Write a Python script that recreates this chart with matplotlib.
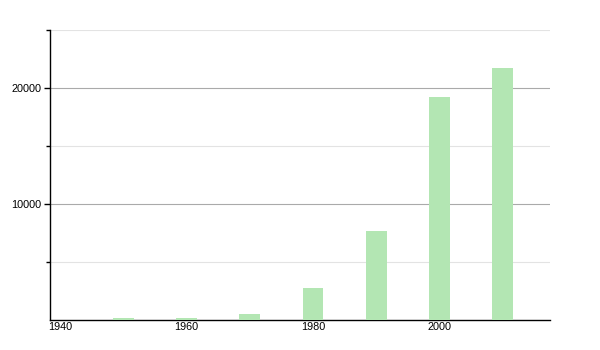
import matplotlib.pyplot as plt
import numpy as np

# values
anni = [1950, 1960, 1970, 1980, 1990, 2000, 2010]
valori = [150, 150, 480, 2720, 7700, 19220, 21750]
xticks = [1940, 1960, 1980, 2000]
yticks = [10000, 20000]
yticks_minor = [5000, 15000, 25000]

plt.rcParams['font.family'] = ['Liberation Sans', 'DejaVu Sans']

fig = plt.figure(figsize=(6, 3.5), dpi=100)
ax = fig.add_axes([50/600, 30/350, 500/600, 290/350])

ax.bar(anni, valori, width=3.3, color="#b3e6b3", zorder=3)

# Axis limits
ax.set_xlim(1938.4, 2017.5)
ax.set_ylim(0, 25000)

# Ticks
ax.set_xticks(xticks)
ax.set_yticks(yticks)
ax.set_yticks(yticks_minor, minor=True)
ax.tick_params(axis="x", length=0, labelsize=7.8, pad=1.5)
ax.tick_params(axis="y", which="major", length=4, width=1, labelsize=7.8, pad=2)
ax.tick_params(axis="y", which="minor", length=3, width=1)

# Grid
ax.grid(axis="y", which="major", color="#aaaaaa", linewidth=0.8, zorder=0)
ax.grid(axis="y", which="minor", color="#e3e3e3", linewidth=0.8, zorder=0)

for s in ["top", "right"]:
    ax.spines[s].set_visible(False)
ax.spines["left"].set_linewidth(1)
ax.spines["bottom"].set_linewidth(1)

fig.savefig("out.png", dpi=100)
